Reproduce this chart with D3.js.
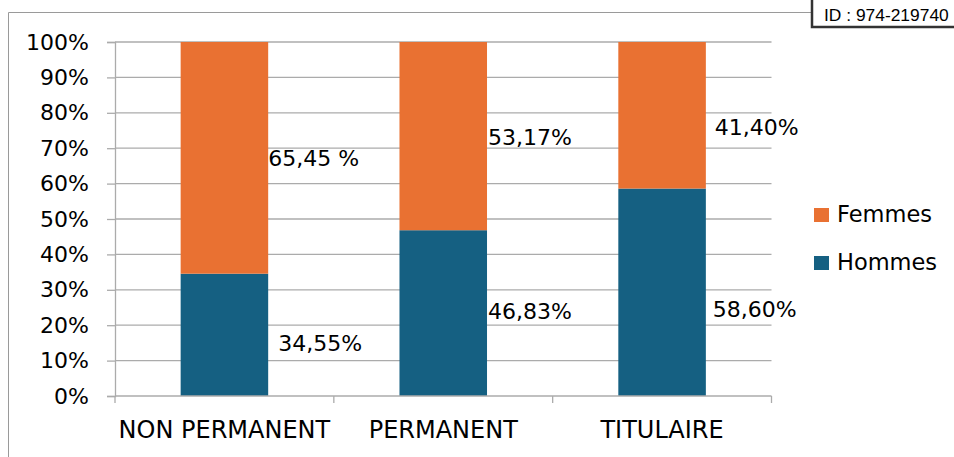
<!DOCTYPE html>
<html><head><meta charset="utf-8">
<script src="https://cdn.jsdelivr.net/npm/d3@7"></script>
<style>
html,body{margin:0;padding:0;background:#fff;overflow:hidden}
svg{display:block}
text{font-family:"DejaVu Sans",sans-serif;fill:#000}
</style></head>
<body>
<script>
// ---- data ----
const categories = ["NON PERMANENT", "PERMANENT", "TITULAIRE"];
const seriesNames = ["Hommes", "Femmes"];
const hommes = [34.55, 46.83, 58.60];
const femmes = [65.45, 53.17, 41.40];
const hommesLabels = ["34,55%", "46,83%", "58,60%"];
const femmesLabels = ["65,45 %", "53,17%", "41,40%"];
// label anchor heights (in % units, as placed in the original chart)
const hommesLabelAt = [12.7, 21.75, 22.3];
const femmesLabelAt = [65.0, 70.9, 73.7];
const yTicks = [0, 10, 20, 30, 40, 50, 60, 70, 80, 90, 100];
const yTickLabels = yTicks.map(v => v + "%");
const colors = {Hommes: "#156082", Femmes: "#E97132"};

const W = 954, H = 457;
const svg = d3.select("body").append("svg").attr("width", W).attr("height", H);

// outer frame
svg.append("line").attr("x1", 8.5).attr("x2", 820).attr("y1", 12.5).attr("y2", 12.5).attr("stroke", "#9a9a9a");
svg.append("line").attr("x1", 8.5).attr("x2", 8.5).attr("y1", 12.5).attr("y2", H + 5).attr("stroke", "#9a9a9a");

// ID box
svg.append("rect").attr("x", 812).attr("y", -5).attr("width", 160).attr("height", 32)
  .attr("fill", "#fff").attr("stroke", "#333").attr("stroke-width", 2.5);
svg.append("text").attr("x", 824).attr("y", 21).text("ID : 974-219740")
  .style("font-family", "'Liberation Sans',Arial,sans-serif").style("font-size", "17.4px").attr("fill", "#333");

const x0 = 115, x1 = 771.5, yTop = 42, yBot = 396;
const x = d3.scaleBand().domain(categories).range([x0, x1]).paddingInner(0.6).paddingOuter(0.3);
const y = d3.scaleLinear().domain([0, 100]).range([yBot, yTop]);
const step = x.step();

// gridlines
svg.append("g").selectAll("line").data(yTicks.filter(d => d > 0)).join("line")
  .attr("x1", x0).attr("x2", x1).attr("y1", d => y(d)).attr("y2", d => y(d))
  .attr("stroke", "#ababab").attr("stroke-width", 1.3);

// y axis
const yAxis = svg.append("g").attr("transform", `translate(${x0},0)`)
  .call(d3.axisLeft(y).tickValues(yTicks).tickFormat((d, i) => yTickLabels[i]).tickSize(8).tickPadding(18));
yAxis.select(".domain").attr("stroke", "#ababab").attr("stroke-width", 1.3);
yAxis.selectAll(".tick line").attr("stroke", "#ababab").attr("stroke-width", 1.3);
yAxis.selectAll(".tick text").style("font-family", "'DejaVu Sans',sans-serif").style("font-size", "22px").attr("fill", "#000");

// stacked bars
const rows = categories.map((c, i) => ({cat: c, Hommes: hommes[i], Femmes: femmes[i]}));
const stack = d3.stack().keys(seriesNames)(rows);
svg.append("g").selectAll("g").data(stack).join("g")
  .attr("fill", s => colors[s.key])
  .selectAll("rect").data(s => s).join("rect")
  .attr("x", d => x(d.data.cat)).attr("width", x.bandwidth())
  .attr("y", d => y(d[1])).attr("height", d => y(d[0]) - y(d[1]));

// x axis
const xAxisG = svg.append("g").attr("transform", `translate(0,${yBot})`);
xAxisG.append("line").attr("x1", x0).attr("x2", x1).attr("stroke", "#ababab").attr("stroke-width", 1.3);
const bounds = [x0].concat(categories.map(c => x(c) - x.paddingInner() * step / 2 + step));
xAxisG.selectAll(".bt").data(bounds).join("line").attr("class", "bt")
  .attr("x1", d => d).attr("x2", d => d).attr("y1", 0).attr("y2", 7)
  .attr("stroke", "#ababab").attr("stroke-width", 1.3);
xAxisG.selectAll(".cl").data(categories).join("text").attr("class", "cl")
  .attr("x", d => x(d) + x.bandwidth() / 2).attr("y", 42).attr("text-anchor", "middle")
  .style("font-size", "24px").text(d => d);

// data labels
const lblOffsets = [[10, 0], [1, 1], [7, 9]]; // [hommes, femmes] x offsets from bar edge
const lg = svg.append("g").style("font-size", "22px");
categories.forEach((c, i) => {
  const right = x(c) + x.bandwidth();
  lg.append("text").attr("x", right + lblOffsets[i][0]).attr("y", y(hommesLabelAt[i])).text(hommesLabels[i]);
  lg.append("text").attr("x", right + lblOffsets[i][1]).attr("y", y(femmesLabelAt[i])).text(femmesLabels[i]);
});

// legend
const legendItems = ["Femmes", "Hommes"];
const leg = svg.append("g").attr("transform", "translate(814,208)");
legendItems.forEach((k, i) => {
  const g = leg.append("g").attr("transform", `translate(0,${i * 48})`);
  g.append("rect").attr("width", 15).attr("height", 14).attr("fill", colors[k]);
  g.append("text").attr("x", 23).attr("y", 13.5).style("font-size", "22.5px").text(k);
});
</script>
</body></html>
